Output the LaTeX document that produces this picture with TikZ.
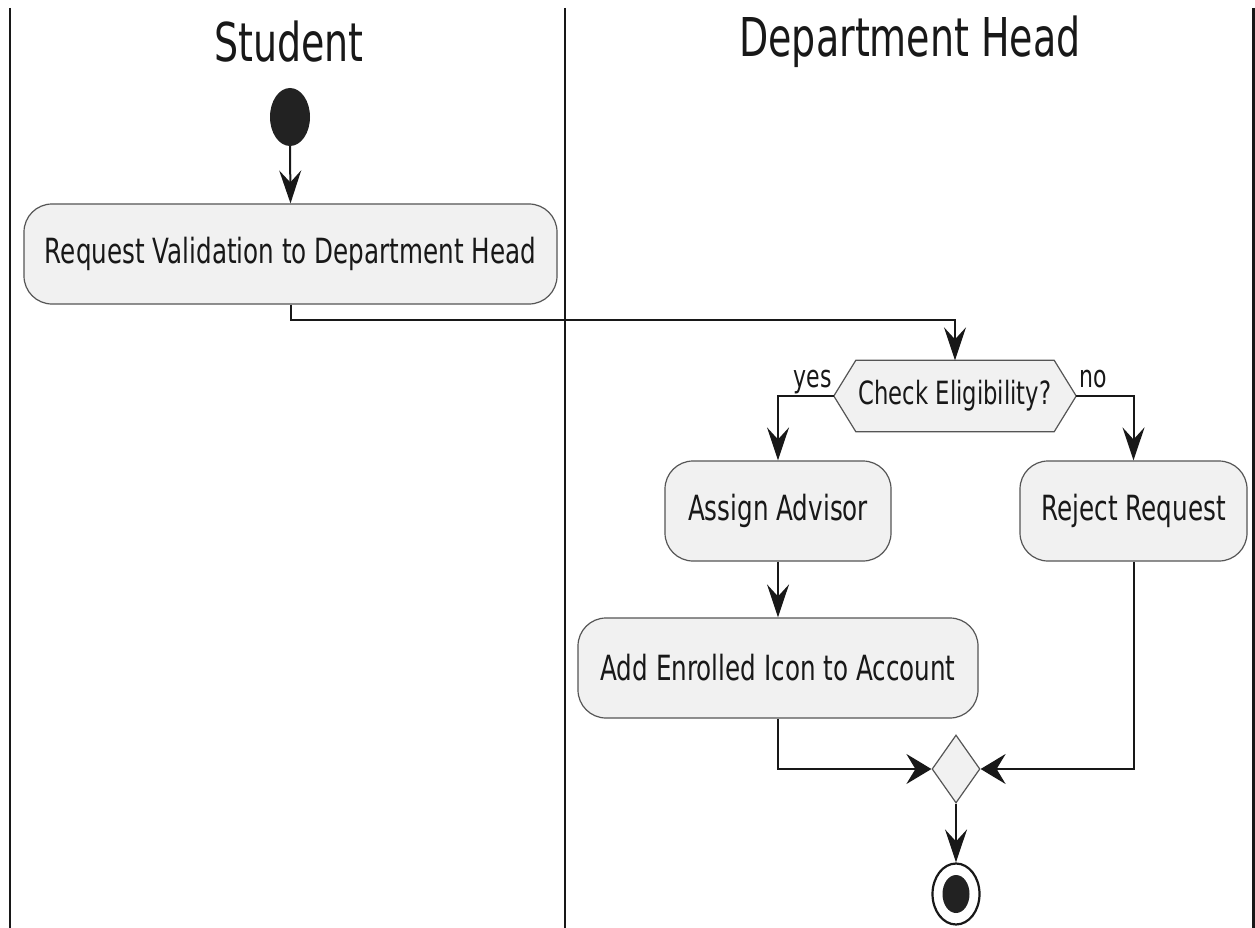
\documentclass[tikz,border=0pt]{standalone}
\usepackage{fontspec}
\setmainfont{DejaVu Sans}[FakeStretch=0.71]
\usetikzlibrary{arrows.meta,shapes.geometric,backgrounds}
\definecolor{actfill}{HTML}{F1F1F1}
\definecolor{actline}{HTML}{555555}
\definecolor{ink}{HTML}{181818}
\definecolor{dotfill}{HTML}{222222}
\tikzset{
  lane/.style={draw=ink, line width=2.2pt},
  lanetitle/.style={font=\fontsize{53.5}{60}\selectfont, text=ink, inner sep=0pt},
  action/.style={draw=actline, fill=actfill, line width=1.2pt, rounded corners=28pt,
    minimum height=100pt, inner sep=0pt, font=\fontsize{34.7}{40}\selectfont, text=ink},
  varrow/.style={draw=ink, line width=2pt, -{Stealth[length=33pt,width=22pt,inset=12pt]}},
  harrow/.style={draw=ink, line width=2pt, -{Stealth[length=25pt,width=30pt,inset=9pt]}},
  guard/.style={font=\fontsize{31}{36}\selectfont, text=ink, inner sep=0pt},
}
\begin{document}
\begin{tikzpicture}[x=1pt, y=-1pt]
\useasboundingbox (0,0) rectangle (1255,928);

% swimlane separators
\draw[lane] (10,8) -- (10,928);
\draw[lane] (565,8) -- (565,928);
\draw[lane] (1253.5,8) -- (1253.5,928);

% swimlane titles
\node[lanetitle] (tstudent) at (289,42) {Student};
\node[lanetitle] (thead) at (910,42) {Department Head};

% start
\node[ellipse, fill=dotfill, minimum width=40pt, minimum height=58pt, inner sep=0pt] (start) at (290,117) {};

% actions
\node[action, minimum width=533pt] (req) at (290.5,254) {Request Validation to Department Head};
\node[action, minimum width=226pt] (assign) at (778,511) {Assign Advisor};
\node[action, minimum width=227pt] (reject) at (1133.5,511) {Reject Request};
\node[action, minimum width=400pt] (add) at (778,668) {Add Enrolled Icon to Account};

% decision
\node[minimum width=198pt, minimum height=71pt, inner sep=0pt,
      font=\fontsize{32}{36}\selectfont, text=ink] (chk) at (955,396) {Check Eligibility?};
\coordinate (chkL) at ([xshift=-22pt]chk.west);
\coordinate (chkR) at ([xshift=22pt]chk.east);
\begin{scope}[on background layer]
  \draw[draw=actline, fill=actfill, line width=1.2pt]
    (chk.north west) -- (chk.north east) -- (chkR) -- (chk.south east)
    -- (chk.south west) -- (chkL) -- cycle;
\end{scope}
\node[guard, anchor=base east] (lyes) at (832,387) {yes};
\node[guard, anchor=base west] (lno) at (1079,387) {no};

% merge
\node[diamond, draw=actline, fill=actfill, line width=1.2pt, inner sep=0pt,
      minimum width=48pt, minimum height=68pt] (merge) at (956,769) {};

% end
\node[ellipse, draw=ink, fill=white, line width=2.2pt, minimum width=47pt,
      minimum height=61pt, inner sep=0pt] (stop) at (956,894) {};
\node[ellipse, fill=dotfill, minimum width=27pt, minimum height=38pt, inner sep=0pt]
      (stopdot) at (stop.center) {};

% flows
\draw[varrow] (start.south) -- (req.north);
\draw[varrow] (req.south) -- ++(0,15) -| (chk.north);
\draw[varrow] (chkL) -| (assign.north);
\draw[varrow] (chkR) -| (reject.north);
\draw[varrow] (assign.south) -- (add.north);
\draw[harrow] (add.south) |- (merge.west);
\draw[harrow] (reject.south) |- (merge.east);
\draw[varrow] (merge.south) -- (stop.north);
\end{tikzpicture}
\end{document}
